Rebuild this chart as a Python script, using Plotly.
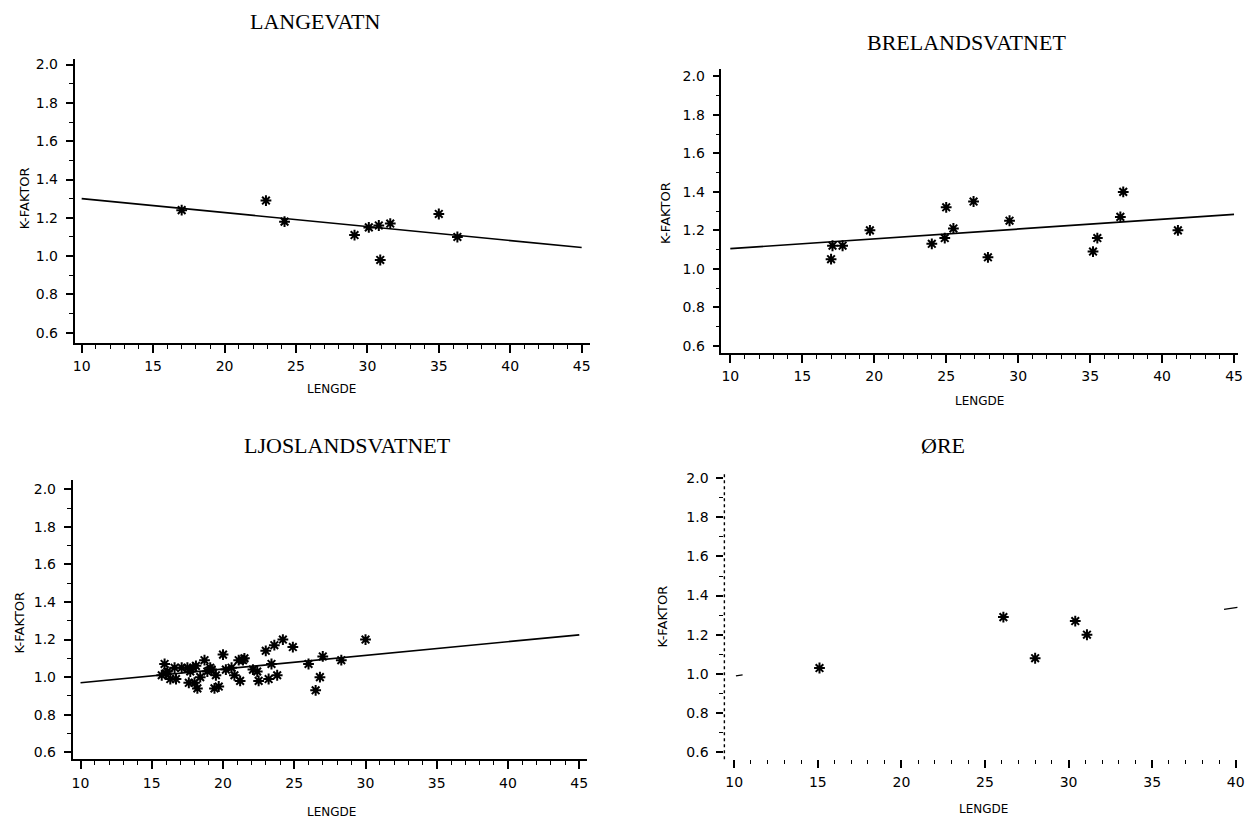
import plotly.graph_objects as go

W, H = 1258, 822

# ---------------- data ----------------
lang_x = [17.0, 22.9, 24.2, 29.1, 30.1, 30.8, 31.6, 30.9, 35.0, 36.3]
lang_y = [1.24, 1.29, 1.18, 1.11, 1.15, 1.16, 1.17, 0.98, 1.22, 1.10]
lang_fit_x = [10, 45]
lang_fit_y = [1.30, 1.045]

brel_x = [17.0, 17.1, 17.8, 19.7, 24.0, 24.9, 25.0, 25.5, 26.9, 27.9, 29.4, 35.2, 35.5, 37.1, 37.3, 41.1]
brel_y = [1.05, 1.12, 1.12, 1.20, 1.13, 1.16, 1.32, 1.21, 1.35, 1.06, 1.25, 1.09, 1.16, 1.27, 1.40, 1.20]
brel_fit_x = [10, 45]
brel_fit_y = [1.105, 1.283]

ljos_x = [15.7, 15.9, 16.0, 16.1, 16.3, 16.6, 16.7, 17.1, 17.5, 17.6, 17.7, 17.9, 18.0, 18.1,
          18.2, 18.4, 18.7, 18.9, 19.1, 19.2, 19.4, 19.5, 19.7, 20.0, 20.2, 20.6, 20.8, 21.1,
          21.2, 21.4, 21.5, 22.1, 22.4, 22.5, 23.0, 23.2, 23.4, 23.6, 23.8, 24.2, 24.9, 26.0,
          26.5, 26.8, 27.0, 28.3, 30.0]
ljos_y = [1.01, 1.07, 1.02, 1.03, 0.99, 1.05, 0.99, 1.05, 1.05, 0.97, 1.03, 1.05, 0.97, 1.06,
          0.94, 1.00, 1.09, 1.03, 1.05, 1.04, 0.94, 1.01, 0.95, 1.12, 1.04, 1.05, 1.01, 1.09,
          0.98, 1.09, 1.10, 1.04, 1.03, 0.98, 1.14, 0.99, 1.07, 1.17, 1.01, 1.20, 1.16, 1.07,
          0.93, 1.00, 1.11, 1.09, 1.20]
ljos_fit_x = [10, 45]
ljos_fit_y = [0.97, 1.225]

ore_x = [15.1, 26.1, 28.0, 30.4, 31.1]
ore_y = [1.03, 1.29, 1.08, 1.27, 1.20]
# faint fragments of the regression line that survive in the print
ore_frag1_x = [10.1, 10.5]
ore_frag1_y = [0.99, 0.995]
ore_frag2_x = [39.3, 40.1]
ore_frag2_y = [1.33, 1.34]

y_ticks = [0.6, 0.8, 1.0, 1.2, 1.4, 1.6, 1.8, 2.0]
x_ticks_a = [10, 15, 20, 25, 30, 35, 40, 45]
x_ticks_b = [10, 15, 20, 25, 30, 35, 40]

titles = ["LANGEVATN", "BRELANDSVATNET", "LJOSLANDSVATNET", "ØRE"]
xlab = "LENGDE"
ylab = "K-FAKTOR"

# ---------------- layout geometry (pixels) ----------------
def px_dom_x(a, b):
    return [a / W, b / W]

def px_dom_y(top, bottom):
    return [1 - bottom / H, 1 - top / H]

panels = [
    dict(dx=px_dom_x(73, 592), dy=px_dom_y(57, 342), xr=[9.5, 45.6], yr=[0.548, 2.03], xt=x_ticks_a),
    dict(dx=px_dom_x(724, 1244), dy=px_dom_y(67, 352), xr=[9.38, 45.28], yr=[0.564, 2.04], xt=x_ticks_a),
    dict(dx=px_dom_x(71, 589), dy=px_dom_y(480, 760), xr=[9.44, 45.56], yr=[0.563, 2.048], xt=x_ticks_a),
    dict(dx=px_dom_x(727, 1245), dy=px_dom_y(472, 760), xr=[9.41, 40.2], yr=[0.564, 2.03], xt=x_ticks_b),
]

fig = go.Figure()

star = dict(symbol="asterisk-open", size=9, color="black", line=dict(color="black", width=2))
series = [(lang_x, lang_y, lang_fit_x, lang_fit_y),
          (brel_x, brel_y, brel_fit_x, brel_fit_y),
          (ljos_x, ljos_y, ljos_fit_x, ljos_fit_y)]

for i, (px_, py_, fx, fy) in enumerate(series):
    ax = "" if i == 0 else str(i + 1)
    fig.add_trace(go.Scatter(x=fx, y=fy, mode="lines", line=dict(color="black", width=1.7),
                             xaxis="x" + ax, yaxis="y" + ax, showlegend=False, hoverinfo="skip"))
    fig.add_trace(go.Scatter(x=px_, y=py_, mode="markers", marker=star,
                             xaxis="x" + ax, yaxis="y" + ax, showlegend=False))

fig.add_trace(go.Scatter(x=ore_frag1_x, y=ore_frag1_y, mode="lines", line=dict(color="black", width=1.2),
                         xaxis="x4", yaxis="y4", showlegend=False, hoverinfo="skip"))
fig.add_trace(go.Scatter(x=ore_frag2_x, y=ore_frag2_y, mode="lines", line=dict(color="black", width=1.2),
                         xaxis="x4", yaxis="y4", showlegend=False, hoverinfo="skip"))
fig.add_trace(go.Scatter(x=ore_x, y=ore_y, mode="markers", marker=star,
                         xaxis="x4", yaxis="y4", showlegend=False))

tickfont = dict(family="DejaVu Sans", size=14, color="black")
layout = dict(
    width=W, height=H, margin=dict(l=0, r=0, t=0, b=0),
    paper_bgcolor="white", plot_bgcolor="white", showlegend=False,
)

for i, p in enumerate(panels):
    n = "" if i == 0 else str(i + 1)
    solid = i < 3
    layout["xaxis" + n] = dict(
        domain=p["dx"], range=p["xr"], anchor="y" + n,
        tickmode="array", tickvals=p["xt"], ticktext=[str(v) for v in p["xt"]],
        ticks="outside", ticklen=8, tickwidth=1.5, tickcolor="black",
        showline=solid, linecolor="black", linewidth=1.8,
        showgrid=False, zeroline=False, tickfont=tickfont, ticklabelstandoff=2,
        minor=dict(dtick=1, tick0=10, ticks="outside", ticklen=4, tickwidth=1.3, tickcolor="black",
                   showgrid=False),
        fixedrange=True,
    )
    layout["yaxis" + n] = dict(
        domain=p["dy"], range=p["yr"], anchor="x" + n,
        tickmode="array", tickvals=y_ticks, ticktext=["%.1f" % v for v in y_ticks],
        ticks="outside", ticklen=7, tickwidth=1.5, tickcolor="black",
        showline=solid, linecolor="black", linewidth=1.5,
        showgrid=False, zeroline=False, tickfont=tickfont, ticklabelstandoff=5,
        minor=dict(dtick=0.1, tick0=0.6, ticks="outside", ticklen=4, tickwidth=1.3, tickcolor="black",
                   showgrid=False),
        fixedrange=True,
    )

fig.update_layout(**layout)

# dotted y axis of the ØRE panel
fig.add_shape(type="line", xref="x4 domain", yref="y4 domain", x0=0, x1=0, y0=0, y1=1,
              line=dict(color="black", width=1.4, dash="dot"))

# ---------------- text ----------------
def ann(text, cx, cy, size, family, angle=0):
    fig.add_annotation(text=text, x=cx / W, y=1 - cy / H, xref="paper", yref="paper",
                       showarrow=False, textangle=angle, xanchor="center", yanchor="middle",
                       font=dict(family=family, size=size, color="black"))

serif = "Liberation Serif, Times New Roman, serif"
sans = "DejaVu Sans, Arial, sans-serif"

title_pos = [(315, 20), (971, 41), (348, 445), (947, 445)]
ylab_pos = [(22, 197), (667, 212), (18, 623), (665, 617)]
xlab_pos = [(332, 388), (984, 400), (332, 813), (988, 810)]

for t, (tx, ty), (yx, yy), (xx, xy) in zip(titles, title_pos, ylab_pos, xlab_pos):
    ann(t, tx, ty, 22, serif)
    ann(ylab, yx, yy, 13, sans, angle=-90)
    ann(xlab, xx, xy, 12, sans)

fig.write_html("out.html")
